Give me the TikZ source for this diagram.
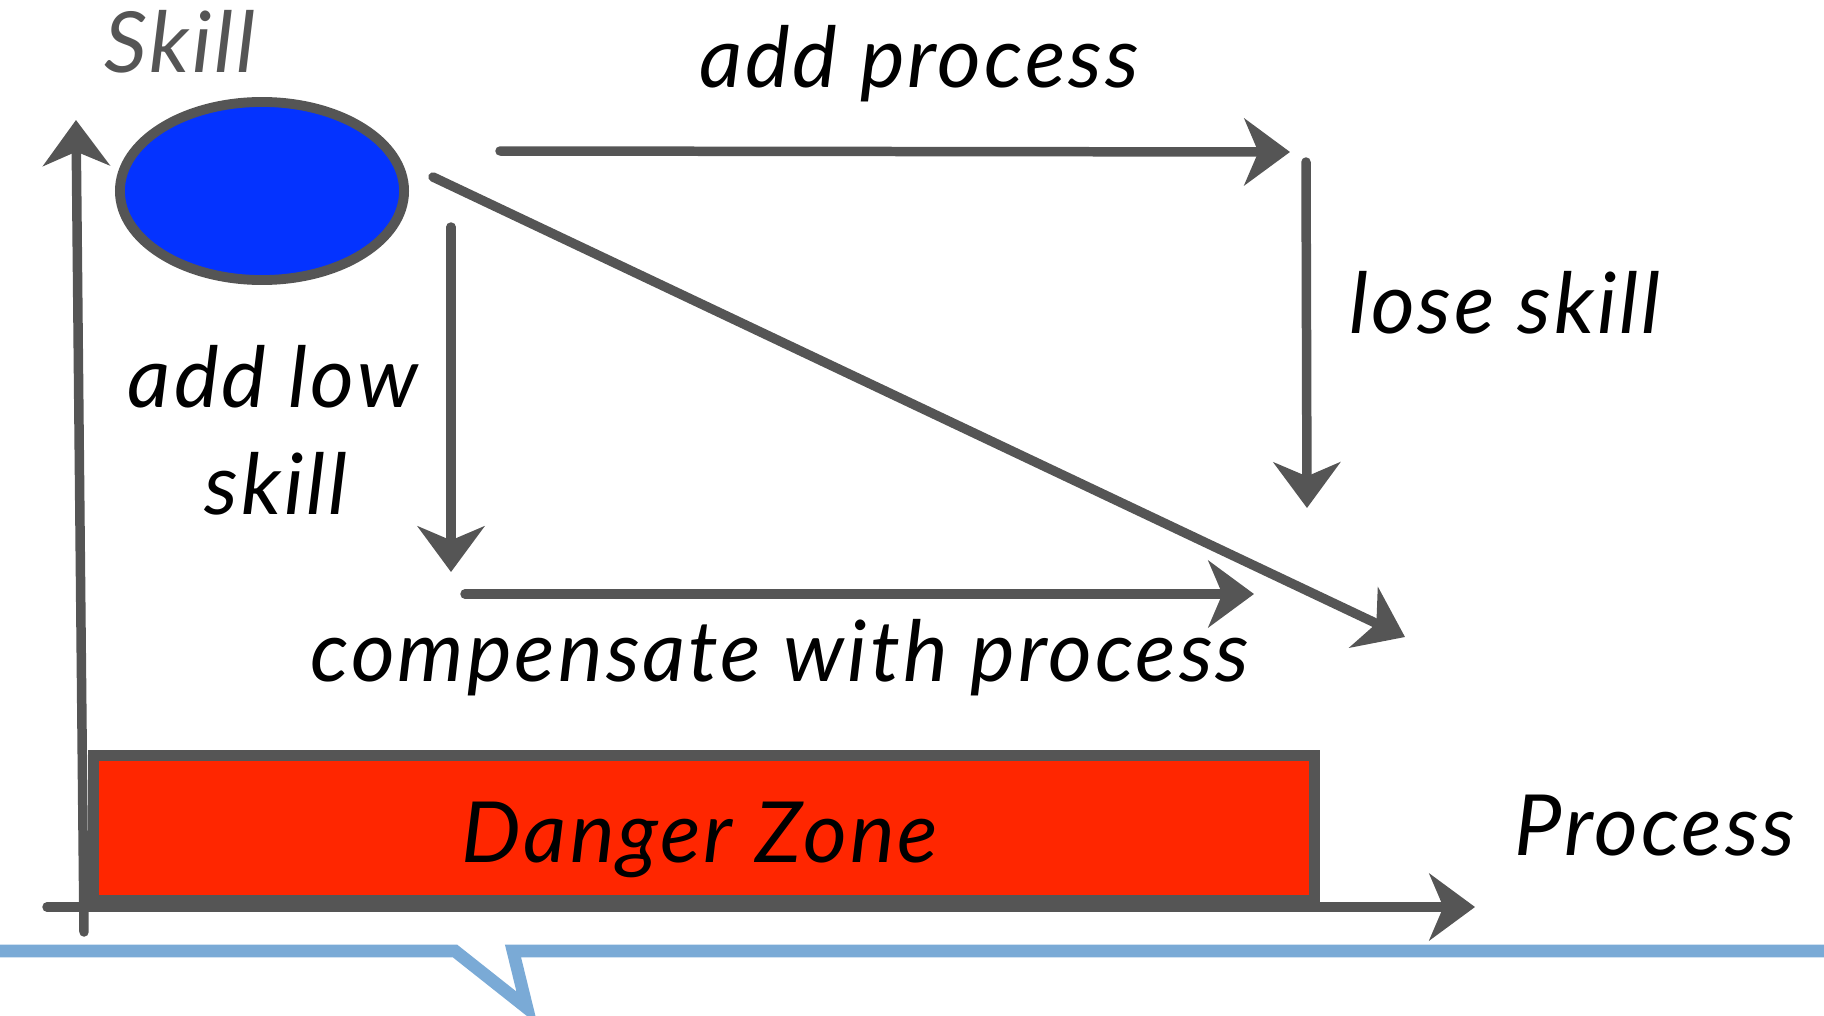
\documentclass[tikz,border=0pt]{standalone}
\usepackage{fontspec}
\setmainfont{Lato}[LetterSpace=3.5]
\usetikzlibrary{arrows.meta,shapes.geometric}
\definecolor{sketch}{HTML}{555555}
\definecolor{skillblue}{HTML}{0433FF}
\definecolor{dangerred}{HTML}{FF2600}
\definecolor{callout}{HTML}{7AAAD6}
\tikzset{
  sk/.style={draw=sketch, line width=2.7pt, line cap=round},
  arr/.style={sk, -{Stealth[length=13pt,width=19pt,inset=4pt]}},
  lbl/.style={font=\fontsize{24}{29}\selectfont\itshape, text=black, inner sep=0pt},
  calloutline/.style={draw=callout, line width=3.6pt, line join=miter},
}
\begin{document}
\begin{tikzpicture}[x=0.01cm,y=-0.01cm]
\useasboundingbox (0,0) rectangle (1824,1015);

% callout edge
\draw[calloutline] (0,951) -- (455,951) -- (527,1008) -- (513,951) -- (1824,951);

% danger zone
\node[draw=sketch, line width=3pt, fill=dangerred, minimum width=12.2cm, minimum height=1.45cm, inner sep=0pt] (dzbox) at (704,828) {};
\node[lbl] (dz) at (700,840) {Danger Zone};

% skill ellipse
\node[ellipse, draw=sketch, line width=2.8pt, fill=skillblue, minimum width=2.84cm, minimum height=1.78cm, inner sep=0pt] (ell) at (262,191) {};

% axes
\coordinate (yb) at (84,932);
\coordinate (yt) at (76,120);
\draw[arr] (yb) -- (yt);
\coordinate (xl) at (47,907);
\coordinate (xr) at (1475,907);
\draw[arr] (xl) -- (xr);

% labels
\node[lbl, text=sketch] (skilllbl) at (180,42) {Skill};
\node[lbl] (addproc) at (919,64) {add process};
\node[lbl] (lose) at (1505,303) {lose skill};
\node[lbl] (addlow1) at (273,377) {add low};
\node[lbl] (addlow2) at (276,484) {skill};
\node[lbl] (comp) at (780,658) {compensate with process};
\node[lbl] (proc) at (1655,826) {Process};

% arrows
\coordinate (ap1) at (500,151);
\coordinate (ap2) at (1290,152);
\draw[arr] (ap1) -- (ap2);
\coordinate (ls1) at (1306,162);
\coordinate (ls2) at (1307,508);
\draw[arr] (ls1) -- (ls2);
\coordinate (dg1) at (433,177);
\coordinate (dg2) at (1405,637);
\draw[arr] (dg1) -- (dg2);
\coordinate (al1) at (451,227);
\coordinate (al2) at (451,572);
\draw[arr] (al1) -- (al2);
\coordinate (cp1) at (465,594);
\coordinate (cp2) at (1254,594);
\draw[arr] (cp1) -- (cp2);
\end{tikzpicture}
\end{document}
